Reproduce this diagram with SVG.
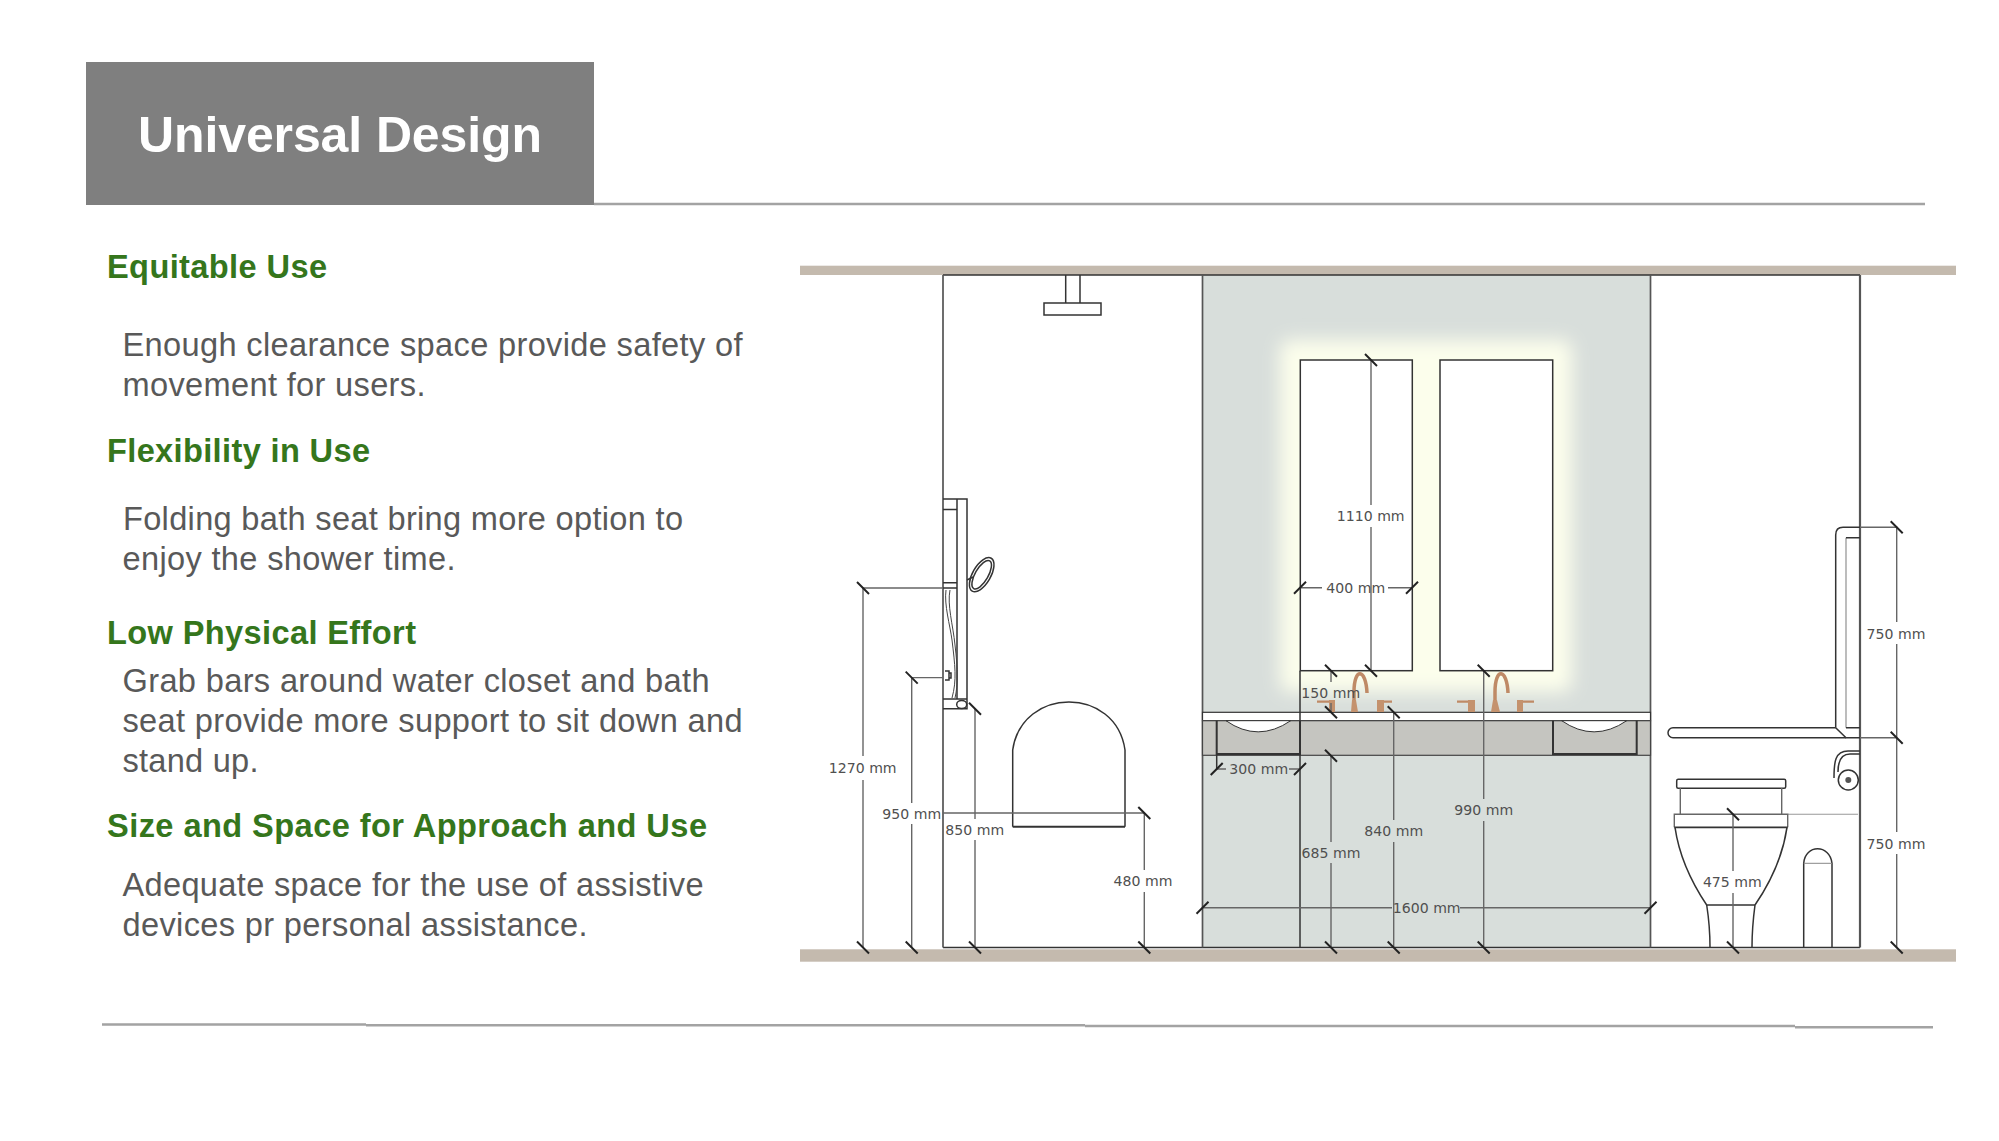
<svg xmlns="http://www.w3.org/2000/svg" width="1999" height="1141" viewBox="0 0 1999 1141">
<style>
text{font-family:"Liberation Sans",Arial,sans-serif}
.h{font-weight:700;font-size:32.6px;fill:#35761c}
.b{font-size:32.6px;fill:#595959}
.d{font-family:"DejaVu Sans",Verdana,sans-serif;font-size:14.1px;fill:#505050;text-anchor:middle;dominant-baseline:central}
.l{fill:none;stroke:#333;stroke-width:1.5}
.g{fill:none;stroke:#666;stroke-width:1.4}
.w{fill:#fff;stroke:#333;stroke-width:1.5}
.c{fill:none;stroke:#bf8a66;stroke-width:3.5}
.ch{fill:none;stroke:#bf8a66;stroke-width:2.2}
.s{fill:#c4926e}
.rule{fill:none;stroke:#a3a3a3;stroke-width:2.6}
</style>
<defs>
<path id="a" d="M-6-6L6 6" fill="none" stroke="#222" stroke-width="2"/>
<path id="f" d="M-6 6L6-6" fill="none" stroke="#222" stroke-width="2"/>
<filter id="blur" x="-30%" y="-30%" width="160%" height="160%"><feGaussianBlur stdDeviation="9"/></filter>
</defs>
<rect width="1999" height="1141" fill="#fff"/>
<g id="header">
<path class="rule" d="M594 204H1925"/>
<rect x="86" y="62" width="508" height="143" fill="#7f7f7f"/>
<text x="138" y="152" font-size="50" font-weight="700" fill="#fff" textLength="404">Universal Design</text>
</g>
<g id="copy">
<text class="h" x="107" y="278" textLength="220">Equitable Use</text>
<text class="b" x="122.5" y="355.5" textLength="620">Enough clearance space provide safety of</text>
<text class="b" x="122.5" y="396" textLength="303">movement for users.</text>
<text class="h" x="107" y="461.5" textLength="263">Flexibility in Use</text>
<text class="b" x="123" y="530" textLength="560">Folding bath seat bring more option to</text>
<text class="b" x="122.5" y="570" textLength="333">enjoy the shower time.</text>
<text class="h" x="107" y="643.5" textLength="309">Low Physical Effort</text>
<text class="b" x="122.5" y="691.5" textLength="587">Grab bars around water closet and bath</text>
<text class="b" x="122.5" y="731.5" textLength="620">seat provide more support to sit down and</text>
<text class="b" x="122.5" y="771.5" textLength="136">stand up.</text>
<text class="h" x="107" y="836.5" textLength="600">Size and Space for Approach and Use</text>
<text class="b" x="122.5" y="896" textLength="581">Adequate space for the use of assistive</text>
<text class="b" x="122.5" y="936" textLength="465">devices pr personal assistance.</text>
</g>
<g id="footer"><path class="rule" d="M102 1024.5H366M366 1025.3H1085M1085 1026H1795M1795 1027.3H1933"/></g>
<g id="room">
<rect x="800" y="265.7" width="1156" height="9.3" fill="#c4baae"/>
<rect x="800" y="949.3" width="1156" height="12.4" fill="#c4baae"/>
<rect x="943" y="275" width="917" height="672.5" fill="#fff"/>
<rect x="1202.5" y="275" width="448" height="672.5" fill="#d8dedb"/>
<rect x="1280" y="340" width="292" height="352" rx="10" fill="#fcfeec" filter="url(#blur)"/>
<path class="l" d="M943 275H1860M943 947.5H1860"/>
<path fill="none" stroke="#555" stroke-width="1.7" d="M943 947.5V275M1202.5 275V947.5M1650.5 275V947.5"/>
<path fill="none" stroke="#555" stroke-width="2.2" d="M1860 275V947.5"/>
</g>
<g id="mirrors">
<rect id="mirror-left" class="w" x="1300.3" y="360" width="112" height="310.7"/>
<rect id="mirror-right" class="w" x="1440" y="360" width="112.7" height="310.7"/>
</g>
<g id="vanity">
<rect x="1202.5" y="712.3" width="448" height="8.4" fill="#fff" stroke="#333" stroke-width="1.2"/>
<rect x="1202.5" y="720.7" width="448" height="34.6" fill="#c5c5c0" stroke="#444" stroke-width="1.2"/>
<path d="M1226 720.7Q1258 743 1290.7 720.7ZM1561.7 720.7Q1594 743 1626.7 720.7Z" fill="#fff" stroke="#333"/>
<path d="M1216.7 720.7V754H1300V720.7M1553 720.7V754H1636.7V720.7" fill="none" stroke="#333" stroke-width="2"/>
<path class="l" d="M1300 670.7V947.5"/>
<path class="l" d="M1216.7 754V769"/>
</g>
<g id="faucets">
<path class="c" d="M1354 708V692C1354 667 1366 668 1367 693"/>
<path class="c" d="M1495 708V692C1495 667 1507 668 1508 693"/>
<path class="s" d="M1351 712L1352 700H1356L1358 712ZM1491 712L1493 700H1497L1500 712Z"/>
<path class="ch" d="M1317 701.7H1330M1384 701.7H1392M1457 701.7H1470M1523 701.7H1534"/>
<path class="s" d="M1329 700H1335V712H1329ZM1377 700H1384V712H1377ZM1468 700H1475V712H1468ZM1517 700H1523V712H1517Z"/>
</g>
<g id="shower">
<path class="l" d="M1065.7 275V303M1080 275V303"/>
<rect class="w" x="1044" y="303" width="57" height="12"/>
<path class="l" d="M943 499H967V708.7H943M957 499V699M943 509.6H957M943 582.7H957M943 588H957M943 699H967"/>
<path d="M946 590C944 605 950 625 952 640C955 665 957 680 952 698M950 590C947 605 953 625 955 645C958 670 958 685 955 698" fill="none" stroke="#444"/>
<ellipse cx="961.7" cy="704.5" rx="5" ry="4" class="w"/>
<path class="l" d="M945 671H949V680H945M949 673H951V678H949"/>
<path class="l" d="M967 580L973 577"/>
<ellipse cx="981.7" cy="574.7" rx="9" ry="19" transform="rotate(30 981.7 574.7)" class="l"/>
<ellipse cx="981.7" cy="574.7" rx="6.5" ry="16" transform="rotate(30 981.7 574.7)" class="l"/>
</g>
<g id="seat">
<path class="l" d="M1012.7 826.7V750C1022 686 1116 686 1125 750V826.7"/>
<path d="M1012.7 826.7H1125" fill="none" stroke="#333" stroke-width="2"/>
</g>
<g id="grab-bar">
<path class="l" d="M1860 527.3H1843Q1835.7 527.3 1835.7 535V727.7M1860 737.7H1846L1835.7 727.7"/>
<path d="M1846 537.7V727.7" fill="none" stroke="#999" stroke-width="1.3"/>
<path class="l" d="M1846 537.7H1860M1846 727.7H1860"/>
<path class="l" d="M1835.7 727.7H1673A5 5 0 0 0 1673 737.7H1846"/>
<path class="l" d="M1860 751H1848C1835 751 1834 762 1834 778M1860 754H1850C1840 754 1838 764 1838 772"/>
<circle class="l" cx="1848.3" cy="780" r="10"/>
<circle cx="1848.3" cy="780" r="3" fill="#555"/>
</g>
<g id="toilet">
<path d="M1788 814.3H1858" fill="none" stroke="#999" stroke-width="1.1"/>
<rect class="w" x="1676.7" y="779.3" width="109" height="9" rx="1.5"/>
<path class="g" d="M1680.3 788V814.3M1781.7 788V814.3"/>
<path class="g" d="M1674.3 827.3V814.3H1787.7V827.3"/>
<path d="M1674.3 827.3H1787.7" fill="none" stroke="#333" stroke-width="1.8"/>
<path class="l" d="M1675 827.3C1679 855 1692 883 1706.7 905H1755C1770 883 1783 855 1787 827.3M1706.7 905C1709 920 1710 935 1710 947M1755 905C1753 920 1752 935 1752 947"/>
<path class="l" d="M1803.7 947V863.3C1805 844 1830 844 1832 863.3V947"/>
<path d="M1803.7 863.3H1832" fill="none" stroke="#888" stroke-width="1"/>
</g>
<g id="dimensions">
<path class="g" d="M863 588H943M863 588V756M863 780V947.5"/>
<path class="g" d="M911.7 677.6H943M911.7 677.6V803M911.7 824V947.5"/>
<path class="g" d="M975 708.7V819M975 840V947.5"/>
<path class="g" d="M943 813H1144.3V870M1144.3 892V947.5"/>
<path class="g" d="M1371 360V505M1371 527V670.7"/>
<path class="g" d="M1300 587.7H1322M1388 587.7H1412"/>
<path class="g" d="M1331 670.7V682M1331 703V712.3M1331 755.7V842M1331 863V947.5"/>
<path class="g" d="M1393.7 712.3V820M1393.7 842V947.5"/>
<path class="g" d="M1483.7 670.7V799M1483.7 821V947.5"/>
<path class="g" d="M1202.5 907.7H1392M1460 907.7H1650.5"/>
<path class="g" d="M1216.7 769H1226M1289 769H1300"/>
<path class="g" d="M1860 527.3H1896.7V622M1896.7 644V832M1896.7 854V947.5M1860 737.7H1896.7"/>
<path class="g" d="M1733 814.3V871M1733 893V947.5"/>
<g id="ticks">
<use href="#a" x="863" y="588"/><use href="#a" x="863" y="947.5"/>
<use href="#a" x="911.7" y="677.6"/><use href="#a" x="911.7" y="947.5"/>
<use href="#a" x="975" y="708.7"/><use href="#a" x="975" y="947.5"/>
<use href="#a" x="1144.3" y="813"/><use href="#a" x="1144.3" y="947.5"/>
<use href="#a" x="1371" y="360"/><use href="#a" x="1371" y="670.7"/>
<use href="#f" x="1300" y="587.7"/><use href="#f" x="1412" y="587.7"/>
<use href="#a" x="1331" y="670.7"/><use href="#a" x="1331" y="712.3"/>
<use href="#a" x="1331" y="755.7"/><use href="#a" x="1331" y="947.5"/>
<use href="#a" x="1393.7" y="712.3"/><use href="#a" x="1393.7" y="947.5"/>
<use href="#a" x="1483.7" y="670.7"/><use href="#a" x="1483.7" y="947.5"/>
<use href="#f" x="1202.5" y="907.7"/><use href="#f" x="1650.5" y="907.7"/>
<use href="#f" x="1216.7" y="769"/><use href="#f" x="1300" y="769"/>
<use href="#a" x="1896.7" y="527.3"/><use href="#a" x="1896.7" y="737.7"/><use href="#a" x="1896.7" y="947.5"/>
<use href="#a" x="1733" y="814.3"/><use href="#a" x="1733" y="947.5"/>
</g>
</g>
<g id="labels">
<text class="d" x="862.7" y="768">1270 mm</text>
<text class="d" x="911.7" y="813.5">950 mm</text>
<text class="d" x="974.7" y="829.5">850 mm</text>
<text class="d" x="1143" y="881">480 mm</text>
<text class="d" x="1370.7" y="516">1110 mm</text>
<text class="d" x="1355.7" y="588">400 mm</text>
<text class="d" x="1330.7" y="692.5">150 mm</text>
<text class="d" x="1258.7" y="769">300 mm</text>
<text class="d" x="1331" y="852.5">685 mm</text>
<text class="d" x="1393.7" y="831">840 mm</text>
<text class="d" x="1483.7" y="810">990 mm</text>
<text class="d" x="1426.7" y="908">1600 mm</text>
<text class="d" x="1896" y="633.5">750 mm</text>
<text class="d" x="1896" y="843.5">750 mm</text>
<text class="d" x="1732.3" y="882">475 mm</text>
</g>
</svg>
